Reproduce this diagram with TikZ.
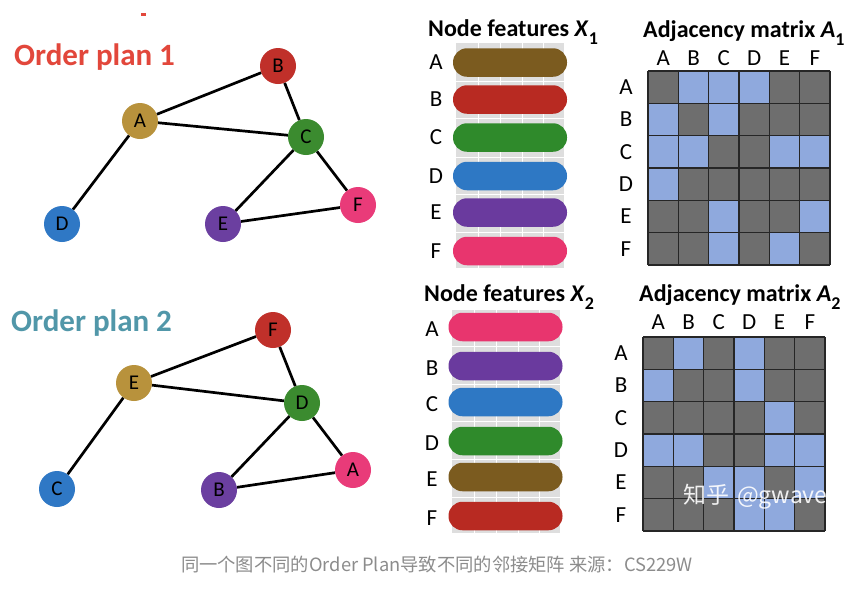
\documentclass[tikz,border=0pt]{standalone}
\usepackage{fontspec}
\setmainfont{Carlito}
\newfontfamily\cjk{Noto Sans CJK SC}
\definecolor{nA}{HTML}{B8923C}
\definecolor{nB}{HTML}{C0302A}
\definecolor{nC}{HTML}{3B8B2F}
\definecolor{nD}{HTML}{2F78C5}
\definecolor{nE}{HTML}{6B3FA0}
\definecolor{nF}{HTML}{E93B79}
\definecolor{bA}{HTML}{7B5B1F}
\definecolor{bB}{HTML}{B82A22}
\definecolor{bC}{HTML}{2F8A2B}
\definecolor{bD}{HTML}{2E78C4}
\definecolor{bE}{HTML}{6A3A9E}
\definecolor{bF}{HTML}{E8356E}
\definecolor{title1}{HTML}{E2473B}
\definecolor{title2}{HTML}{5197A9}
\definecolor{cellgray}{HTML}{6E6E6E}
\definecolor{cellblue}{HTML}{8FA9DD}
\definecolor{bggray}{HTML}{DEDEDE}
\definecolor{capgray}{HTML}{8C8C8C}
\begin{document}
\begin{tikzpicture}[x=1pt,y=-1pt,
  gnode/.style={circle,minimum size=36pt,inner sep=0pt,font=\fontsize{21}{21}\selectfont,text=black},
  edge/.style={line width=2.7pt,black},
  bar/.style={rounded corners=14pt,minimum width=114pt,minimum height=28.5pt,inner sep=0pt},
  lbl/.style={font=\fontsize{23}{23}\selectfont,text=black,inner sep=0pt},
  head/.style={font=\fontsize{24}{24}\selectfont\bfseries,text=black,inner sep=0pt},
  ptitle/.style={font=\fontsize{31}{31}\selectfont\bfseries,inner sep=0pt,anchor=west},
  gridln/.style={line width=1.4pt,black!85}
]
\useasboundingbox (0,0) rectangle (858,595);
\fill[white] (0,0) rectangle (858,595);
\fill[title1] (141,13) rectangle (146,16);

% ---------- Graph 1 ----------
\node[ptitle,text=title1] (t1) at (14,57) {Order plan 1};
\node[gnode,fill=nB] (g1B) at (278,66) {B};
\node[gnode,fill=nA] (g1A) at (140,121) {A};
\node[gnode,fill=nC] (g1C) at (306,137) {C};
\node[gnode,fill=nD] (g1D) at (62,224) {D};
\node[gnode,fill=nE] (g1E) at (223,224) {E};
\node[gnode,fill=nF] (g1F) at (358,205) {F};
\draw[edge] (g1A) -- (g1B);
\draw[edge] (g1A) -- (g1C);
\draw[edge] (g1A) -- (g1D);
\draw[edge] (g1B) -- (g1C);
\draw[edge] (g1C) -- (g1E);
\draw[edge] (g1C) -- (g1F);
\draw[edge] (g1E) -- (g1F);

% ---------- Graph 2 ----------
\node[ptitle,text=title2] (t2) at (11,323) {Order plan 2};
\node[gnode,fill=nB] (g2F) at (273,330) {F};
\node[gnode,fill=nA] (g2E) at (134,383) {E};
\node[gnode,fill=nC] (g2D) at (302,403) {D};
\node[gnode,fill=nD] (g2C) at (57,489) {C};
\node[gnode,fill=nE] (g2B) at (219,490) {B};
\node[gnode,fill=nF] (g2A) at (353,470) {A};
\draw[edge] (g2E) -- (g2F);
\draw[edge] (g2E) -- (g2D);
\draw[edge] (g2E) -- (g2C);
\draw[edge] (g2F) -- (g2D);
\draw[edge] (g2D) -- (g2B);
\draw[edge] (g2D) -- (g2A);
\draw[edge] (g2B) -- (g2A);

% ---------- Node features X1 ----------
\node[head,anchor=west] (hx1) at (428,32) {Node features \textit{X}\raisebox{-0.3em}{\fontsize{18}{18}\selectfont 1}};
\fill[bggray] (456,43) rectangle (564,268);
\foreach \x in {478,500,522,543} \draw[white,line width=1pt] (\x,43) -- (\x,268);
\foreach \y in {81,118,157,194,232} \draw[white,line width=1pt] (456,\y) -- (564,\y);
\foreach \n/\c/\y in {A/bA/62.5,B/bB/99.5,C/bC/137.5,D/bD/176,E/bE/212.5,F/bF/251}{
  \node[bar,fill=\c] (xa\n) at (510,\y) {};
  \node[lbl] (xal\n) at (436,\y) {\n};
}

% ---------- Node features X2 ----------
\node[head,anchor=west] (hx2) at (424,297) {Node features \textit{X}\raisebox{-0.3em}{\fontsize{18}{18}\selectfont 2}};
\fill[bggray] (452,310) rectangle (560,533);
\foreach \x in {474,496,518,539} \draw[white,line width=1pt] (\x,310) -- (\x,533);
\foreach \y in {346,384,421,459,497} \draw[white,line width=1pt] (452,\y) -- (560,\y);
\foreach \n/\c/\y in {A/bF/327,B/bE/366,C/bD/402,D/bC/441,E/bA/477,F/bB/516}{
  \node[bar,fill=\c] (xb\n) at (505.5,\y) {};
  \node[lbl] (xbl\n) at (432,\y+2) {\n};
}

% ---------- Adjacency matrix A1 ----------
\node[head,anchor=west] (ha1) at (643,33) {Adjacency matrix \textit{A}\raisebox{-0.3em}{\fontsize{18}{18}\selectfont 1}};
\def\cw{30.33}\def\ch{32.33}
\fill[cellgray] (648,71) rectangle (830,265);
\foreach \r/\c in {1/2,1/3,1/4,2/1,2/3,3/1,3/2,3/5,3/6,4/1,5/3,5/6,6/3,6/5}
  \fill[cellblue] ({648+(\c-1)*\cw},{71+(\r-1)*\ch}) rectangle ++(\cw,\ch);
\foreach \i in {0,...,6}{
  \draw[gridln] ({648+\i*\cw},71) -- ({648+\i*\cw},265);
  \draw[gridln] (648,{71+\i*\ch}) -- (830,{71+\i*\ch});
}
\foreach \n [count=\i] in {A,B,C,D,E,F}{
  \node[lbl] (m1c\n) at ({648+(\i-0.5)*\cw},58) {\n};
  \node[lbl] (m1r\n) at (626,{71+(\i-0.5)*\ch}) {\n};
}

% ---------- Adjacency matrix A2 ----------
\node[head,anchor=west] (ha2) at (639,297) {Adjacency matrix \textit{A}\raisebox{-0.3em}{\fontsize{18}{18}\selectfont 2}};
\fill[cellgray] (643,337) rectangle (825,531);
\foreach \r/\c in {1/2,1/4,2/1,2/4,3/5,4/1,4/2,4/5,4/6,5/3,5/4,5/6,6/4,6/5}
  \fill[cellblue] ({643+(\c-1)*\cw},{337+(\r-1)*\ch}) rectangle ++(\cw,\ch);
\foreach \i in {0,...,6}{
  \draw[gridln] ({643+\i*\cw},337) -- ({643+\i*\cw},531);
  \draw[gridln] (643,{337+\i*\ch}) -- (825,{337+\i*\ch});
}
\foreach \n [count=\i] in {A,B,C,D,E,F}{
  \node[lbl] (m2c\n) at ({643+(\i-0.5)*\cw},322) {\n};
  \node[lbl] (m2r\n) at (621,{337+(\i-0.5)*\ch}) {\n};
}

% watermark
\node[inner sep=0pt,anchor=west,text=white,opacity=0.9,font=\cjk\fontsize{23}{23}\selectfont] (wm) at (683,497) {知乎\hspace{8pt}@gwave};

% caption
\node[inner sep=0pt,text=capgray,font=\cjk\fontsize{18.3}{18.3}\selectfont] (cap) at (437,565) {同一个图不同的Order Plan导致不同的邻接矩阵 来源：CS229W};
\end{tikzpicture}
\end{document}
